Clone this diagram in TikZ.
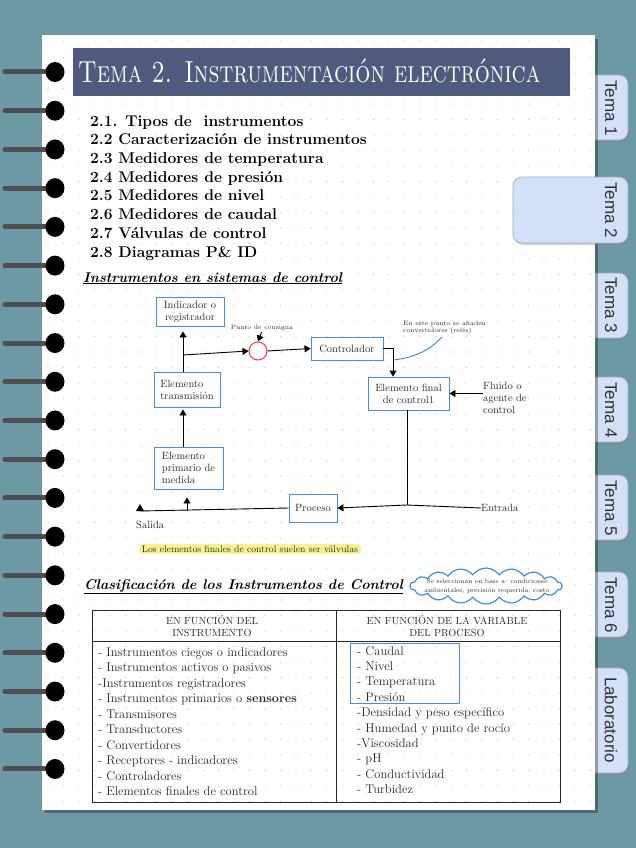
\documentclass[tikz,border=0pt]{standalone}
\usepackage{fontspec}
\newfontfamily\tabfont{Liberation Sans}
\usetikzlibrary{arrows.meta,shapes.symbols,shadows}
\definecolor{bgteal}{HTML}{6D99A5}
\definecolor{bandblue}{HTML}{4F5A7E}
\definecolor{tabfill}{HTML}{D4E0F8}
\definecolor{tabedge}{HTML}{9AA9C4}
\definecolor{boxblue}{HTML}{4A8DE0}
\definecolor{sumred}{HTML}{E8413A}
\definecolor{hiyellow}{HTML}{F7F38E}
\definecolor{cloudblue}{HTML}{3A86DC}
\definecolor{dotgray}{HTML}{C6C6C6}
\definecolor{txtgray}{HTML}{2A2A2A}
\definecolor{ringbar}{HTML}{4E4E4E}
\begin{document}
\begin{tikzpicture}[x=1pt,y=-1pt,
  tabshape/.style={fill=tabfill,draw=tabedge,line width=0.6pt,rounded corners=9pt,
     drop shadow={opacity=0.35,shadow xshift=1pt,shadow yshift=-2pt}},
  tabtxt/.style={rotate=-90,font=\tabfont\fontsize{17}{17}\selectfont,text=black!80},
  box/.style={draw=boxblue,line width=0.9pt,fill=white,align=center,
     font=\fontsize{10.5}{12}\selectfont,text=txtgray,inner sep=1pt},
  lbl/.style={font=\fontsize{10.5}{12}\selectfont,text=txtgray,inner sep=0pt},
  tiny/.style={font=\fontsize{6.3}{7.5}\selectfont,text=txtgray,inner sep=0pt},
  conn/.style={line width=0.9pt,black},
  arr/.style={conn,-{Triangle[length=6pt,width=7pt]}},
  item/.style={anchor=base west,inner sep=0pt,font=\fontsize{15.6}{18}\bfseries\selectfont},
  head/.style={anchor=base west,inner sep=0pt,font=\fontsize{14.1}{16}\bfseries\itshape\selectfont},
  cell/.style={anchor=base west,inner sep=0pt,font=\fontsize{12.6}{14}\selectfont,text=txtgray},
  hdr/.style={align=center,inner sep=0pt,font=\fontsize{10.3}{12}\selectfont,text=txtgray}]
\useasboundingbox (0,0) rectangle (636,848);
% background
\fill[bgteal] (0,0) rectangle (636,848);
% tabs behind page
\draw[tabshape] (580,75) rectangle (628,140);
\draw[tabshape] (580,273) rectangle (628,338);
\draw[tabshape] (580,377) rectangle (628,442);
\draw[tabshape] (580,475) rectangle (628,540);
\draw[tabshape] (580,572) rectangle (628,637);
\draw[tabshape] (580,668) rectangle (628,773);
% page
\fill[black,opacity=0.3] (45,39) rectangle (598,813);
\fill[white] (42,35) rectangle (595,810);
\foreach \i in {0,...,35}{
  \foreach \j in {0,...,49}{
    \fill[dotgray] (48+15.5*\i,42+15.5*\j) circle[radius=0.55pt];
  }
}
% active tab
\draw[tabshape] (513,177) rectangle (628,243);
\node[tabtxt] (t1) at (611,108) {Tema 1};
\node[tabtxt] (t2) at (611,210) {Tema 2};
\node[tabtxt] (t3) at (611,305) {Tema 3};
\node[tabtxt] (t4) at (611,410) {Tema 4};
\node[tabtxt] (t5) at (611,508) {Tema 5};
\node[tabtxt] (t6) at (611,605) {Tema 6};
\node[tabtxt] (t7) at (611,720) {Laboratorio};
% rings
\foreach \k in {0,...,18}{
  \draw[ringbar,line width=5pt,line cap=round] (5,72+38.72*\k) -- (52,72+38.72*\k);
  \fill[black] (55,72+38.72*\k) ellipse[x radius=9.5pt,y radius=10pt];
}
% title
\fill[bandblue] (73,48) rectangle (570,96);
\node[anchor=base west,inner sep=0pt,text=white,font=\fontsize{23.8}{24}\selectfont] (title) at (78,83) {\scalebox{1}[1.28]{\textsc{Tema 2. Instrumentación electrónica}}};
% list
\node[item] (l1) at (90,126) {2.1. Tipos de\ \ instrumentos};
\node[item] (l2) at (90,144.7) {2.2 Caracterización de instrumentos};
\node[item] (l3) at (90,163.4) {2.3 Medidores de temperatura};
\node[item] (l4) at (90,182.1) {2.4 Medidores de presión};
\node[item] (l5) at (90,200.8) {2.5 Medidores de nivel};
\node[item] (l6) at (90,219.5) {2.6 Medidores de caudal};
\node[item] (l7) at (90,238.2) {2.7 Válvulas de control};
\node[item] (l8) at (90,257) {2.8 Diagramas P\& ID};
\node[head] (h1) at (83,282) {\underline{Instrumentos en sistemas de control}};
% diagram
\node[box,minimum width=68,minimum height=29] (ind) at (190,311.5) {Indicador o\\registrador};
\node[box,minimum width=66,minimum height=35,align=left] (trans) at (187,389.5) {Elemento\\transmisión};
\node[box,minimum width=69,minimum height=42,align=left] (prim) at (188.5,468) {Elemento\\primario de\\medida};
\node[box,minimum width=72,minimum height=23] (ctrl) at (347,348.5) {Controlador};
\node[box,minimum width=81,minimum height=33] (final) at (408.5,393.5) {Elemento final\\de control1};
\node[box,minimum width=48,minimum height=28] (proc) at (313,508) {Proceso};
\node[circle,draw=sumred,line width=1pt,minimum size=18,inner sep=0pt] (sum) at (258,351) {};
\node[tiny] (pc) at (262,328) {Punto de consigna};
\node[tiny,align=left,anchor=west] (note) at (403,327.5) {En este punto se añaden\\convertidores (relés)};
\node[lbl,align=left,anchor=west] (fl) at (483,398) {Fluido o\\agente de\\control};
\node[lbl,anchor=west] (en) at (481,508) {Entrada};
\node[lbl,anchor=west] (sa) at (136,525) {Salida};
\coordinate (j1) at (183,355);
\coordinate (j2) at (407,505);
\coordinate (j3) at (187,511);
\coordinate (sal) at (140,511);
\coordinate (cb) at (393,360);
\coordinate (ce) at (442,337);
\draw[arr,shorten >=5pt] (trans.north -| j1) -- (ind.south -| j1);
\draw[arr] (j1) -- (sum.west);
\draw[arr,shorten <=1pt] (pc.south) -- (sum.north);
\draw[arr] (sum.east) -- (ctrl.west);
\draw[arr] (ctrl.east) -| ([xshift=-15.5]final.north);
\draw[cloudblue,line width=0.9pt] (cb) .. controls (412,358) and (428,352) .. (ce);
\draw[arr] (fl.west |- final.east) -- (final.east);
\draw[conn] (final.south -| j2) -- (j2);
\draw[arr] (en.west) -- (j2) -- (proc.east);
\draw[arr,shorten >=2pt] (prim.north -| j1) -- (trans.south -| j1);
\draw[conn] (proc.west) -- (sal);
\fill[black] ([xshift=-4pt]sal) -- ([xshift=4pt]sal) -- ([yshift=7pt]sal) -- cycle;
\draw[arr,shorten >=8pt] (j3) -- (prim.south -| j3);
% highlight
\node[fill=hiyellow,rounded corners=4pt,inner xsep=3pt,inner ysep=1.5pt,font=\fontsize{9.7}{11}\selectfont,text=txtgray] (hl) at (250,549) {Los elementos finales de control suelen ser válvulas};
% classification
\node[head] (h2) at (84,589) {\underline{Clasificación de los Instrumentos de Control}};
\node[cloud,cloud puffs=18,cloud puff arc=110,aspect=5.5,cloud ignores aspect,draw=cloudblue,line width=1.1pt,fill=white,minimum width=152,minimum height=36,inner sep=0pt] (cl) at (486,586) {};
\node[tiny,align=center,font=\fontsize{6.5}{9}\selectfont] (clt) at (487,586) {Se seleccionan en base a: condiciones\\ambientales, precisión requerida, costo};
% table
\draw[line width=1pt,black!85] (92,610) rectangle (560,802);
\draw[line width=1pt,black!85] (92,641) -- (560,641);
\draw[line width=1pt,black!85] (336,610) -- (336,802);
\node[hdr] (hd1) at (212,626) {EN FUNCIÓN DEL\\INSTRUMENTO};
\node[hdr] (hd2) at (447,626) {EN FUNCIÓN DE LA VARIABLE\\DEL PROCESO};
\node[cell] (a1) at (98,656) {- Instrumentos ciegos o indicadores};
\node[cell] (a2) at (98,671.5) {- Instrumentos activos o pasivos};
\node[cell] (a3) at (98,687) {-Instrumentos registradores};
\node[cell] (a4) at (98,702.5) {- Instrumentos primarios o \textbf{sensores}};
\node[cell] (a5) at (98,718) {- Transmisores};
\node[cell] (a6) at (98,733.5) {- Transductores};
\node[cell] (a7) at (98,749) {- Convertidores};
\node[cell] (a8) at (98,764.5) {- Receptores - indicadores};
\node[cell] (a9) at (98,780) {- Controladores};
\node[cell] (a10) at (98,795.5) {- Elementos finales de control};
\node[cell] (b1) at (357,655) {- Caudal};
\node[cell] (b2) at (357,670.4) {- Nivel};
\node[cell] (b3) at (357,685.8) {- Temperatura};
\node[cell] (b4) at (357,701.2) {- Presión};
\node[cell] (b5) at (357,716.6) {-Densidad y peso específico};
\node[cell] (b6) at (357,732) {- Humedad y punto de rocío};
\node[cell] (b7) at (357,747.4) {-Viscosidad};
\node[cell] (b8) at (357,762.8) {- pH};
\node[cell] (b9) at (357,778.2) {- Conductividad};
\node[cell] (b10) at (357,793.6) {- Turbidez};
\draw[boxblue,line width=0.9pt] (350,643) rectangle (459,703);
\end{tikzpicture}
\end{document}
